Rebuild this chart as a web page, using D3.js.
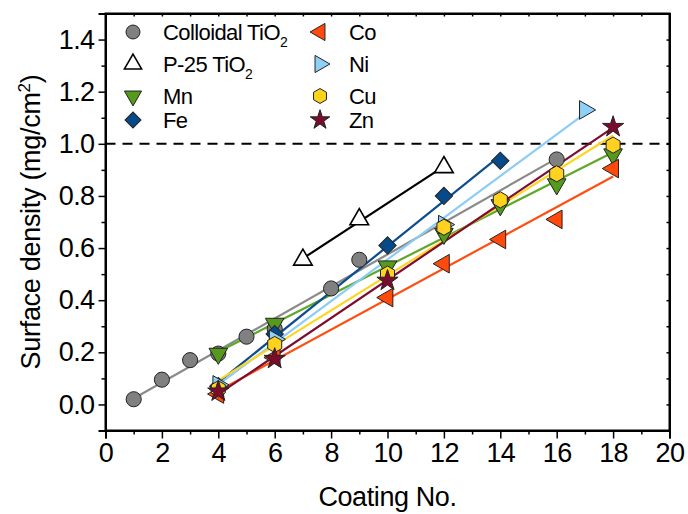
<!DOCTYPE html>
<html>
<head>
<meta charset="utf-8">
<script src="https://cdn.jsdelivr.net/npm/d3@7/dist/d3.min.js"></script>
<style>
body { margin: 0; background: #fff; }
text { font-family: "Liberation Sans", Arial, sans-serif; fill: #000; }
</style>
</head>
<body>
<svg id="chart" width="688" height="514"></svg>
<script>
// data
var colloidalX = [1, 2, 3, 4, 5, 6, 8, 9, 16];
var colloidalY = [0.02, 0.095, 0.17, 0.195, 0.26, 0.29, 0.445, 0.555, 0.94];
var p25X = [7, 9, 12];
var p25Y = [0.555, 0.71, 0.91];
var mnX = [4, 6, 10, 12, 14, 16, 18];
var mnY = [0.195, 0.31, 0.53, 0.655, 0.765, 0.845, 0.96];
var feX = [4, 6, 10, 12, 14];
var feY = [0.07, 0.27, 0.61, 0.80, 0.935];
var coX = [4, 6, 10, 12, 14, 16, 18];
var coY = [0.04, 0.18, 0.41, 0.54, 0.633, 0.71, 0.905];
var niX = [4, 6, 12, 17];
var niY = [0.075, 0.25, 0.69, 1.13];
var cuX = [4, 6, 10, 12, 14, 16, 18];
var cuY = [0.06, 0.23, 0.50, 0.68, 0.785, 0.885, 0.995];
var znX = [4, 6, 10, 18];
var znY = [0.05, 0.175, 0.475, 1.065];

var xTicks = [0, 2, 4, 6, 8, 10, 12, 14, 16, 18, 20];
var yTicks = [0, 0.2, 0.4, 0.6, 0.8, 1.0, 1.2, 1.4];

var svg = d3.select('#chart');

var x = d3.scaleLinear().domain([0, 20]).range([105.5, 669.5]);
var y = d3.scaleLinear().domain([-0.1, 1.5]).range([430.5, 13.5]);

var hexagon = {
    draw: function (ctx, size) {
        var r = Math.sqrt(size / 2.598);
        for (var i = 0; i < 6; i++) {
            var a = Math.PI / 6 + i * Math.PI / 3;
            var px = r * Math.cos(a), py = r * Math.sin(a);
            if (i === 0) ctx.moveTo(px, py); else ctx.lineTo(px, py);
        }
        ctx.closePath();
    }
};

var series = [
    { name: 'Colloidal TiO', sub: '2', xs: colloidalX, ys: colloidalY, line: '#8a8a8a', fill: '#808080', sym: d3.symbolCircle, size: 180, rot: 0 },
    { name: 'P-25 TiO', sub: '2', xs: p25X, ys: p25Y, line: '#000', fill: '#fff', sym: d3.symbolTriangle, size: 150, rot: 0 },
    { name: 'Mn', xs: mnX, ys: mnY, line: '#5ea82a', fill: '#559a1c', sym: d3.symbolTriangle, size: 150, rot: 180 },
    { name: 'Fe', xs: feX, ys: feY, line: '#0d4d8e', fill: '#064a8a', sym: d3.symbolSquare, size: 150, rot: 45 },
    { name: 'Co', xs: coX, ys: coY, line: '#ff4e12', fill: '#ff4a0c', sym: d3.symbolTriangle, size: 150, rot: -90 },
    { name: 'Ni', xs: niX, ys: niY, line: '#8ccdf5', fill: '#8fd0f8', sym: d3.symbolTriangle, size: 150, rot: 90 },
    { name: 'Cu', xs: cuX, ys: cuY, line: '#ffd524', fill: '#ffd21f', sym: hexagon, size: 170, rot: 0 },
    { name: 'Zn', xs: znX, ys: znY, line: '#7d0c2e', fill: '#7b0c2c', sym: d3.symbolStar, size: 140, rot: 0 }
];

function fit(xs, ys) {
    var n = xs.length, mx = d3.mean(xs), my = d3.mean(ys), sxy = 0, sxx = 0;
    for (var i = 0; i < n; i++) {
        sxy += (xs[i] - mx) * (ys[i] - my);
        sxx += (xs[i] - mx) * (xs[i] - mx);
    }
    var b = sxy / sxx;
    return { a: my - b * mx, b: b };
}

// axes
var bottom = svg.append('g').attr('transform', 'translate(0,' + y.range()[0] + ')');
bottom.call(d3.axisBottom(x).tickValues(xTicks).tickSize(8).tickPadding(4));
svg.append('g').attr('transform', 'translate(0,' + y.range()[0] + ')')
    .call(d3.axisBottom(x).tickValues(d3.range(1, 20, 2)).tickSize(4).tickFormat(''));

var left = svg.append('g').attr('transform', 'translate(' + x.range()[0] + ',0)');
left.call(d3.axisLeft(y).tickValues(yTicks).tickSize(7).tickPadding(4).tickFormat(d3.format('.1f')));
svg.append('g').attr('transform', 'translate(' + x.range()[0] + ',0)')
    .call(d3.axisLeft(y).tickValues(d3.range(-0.1, 1.5, 0.2)).tickSize(4).tickFormat(''));

svg.append('g').attr('transform', 'translate(0,' + y.range()[1] + ')')
    .call(d3.axisBottom(x).tickValues(d3.range(1, 20, 1)).tickSize(3).tickFormat(''));
svg.append('g').attr('transform', 'translate(' + x.range()[1] + ',0)')
    .call(d3.axisLeft(y).tickValues(d3.range(0, 1.45, 0.1)).tickSize(3).tickFormat(''));

svg.selectAll('.domain').attr('stroke', '#000').attr('stroke-width', 2);
svg.selectAll('.tick line').attr('stroke', '#000').attr('stroke-width', 1.5);
svg.selectAll('.tick text').style('font-size', '27px').style('letter-spacing', '-0.6px').attr('fill', '#000');

// frame
svg.append('rect')
    .attr('x', x.range()[0]).attr('y', y.range()[1])
    .attr('width', x.range()[1] - x.range()[0]).attr('height', y.range()[0] - y.range()[1])
    .attr('fill', 'none').attr('stroke', '#000').attr('stroke-width', 2);

// 1.0 reference
svg.append('line')
    .attr('x1', x(0)).attr('x2', x(20)).attr('y1', y(1)).attr('y2', y(1))
    .attr('stroke', '#000').attr('stroke-width', 2).attr('stroke-dasharray', '10,7');

// axis titles
svg.append('text')
    .attr('x', (x.range()[0] + x.range()[1]) / 2).attr('y', 506)
    .attr('text-anchor', 'middle').style('font-size', '27px').style('letter-spacing', '-0.4px').text('Coating No.');

var yt = svg.append('text')
    .attr('transform', 'translate(40,' + 222 + ') rotate(-90)')
    .attr('text-anchor', 'middle').style('font-size', '27px').style('letter-spacing', '-0.3px');
yt.append('tspan').text('Surface density (mg/cm');
yt.append('tspan').attr('dy', -10).style('font-size', '17px').text('2');
yt.append('tspan').attr('dy', 10).text(')');

// fit lines and markers
var plot = svg.append('g');
series.forEach(function (s) {
    var f = fit(s.xs, s.ys);
    var x0 = d3.min(s.xs), x1 = d3.max(s.xs);
    plot.append('line')
        .attr('x1', x(x0)).attr('y1', y(f.a + f.b * x0))
        .attr('x2', x(x1)).attr('y2', y(f.a + f.b * x1))
        .attr('stroke', s.line).attr('stroke-width', 2.2);
});
series.forEach(function (s) {
    var sym = d3.symbol().type(s.sym).size(s.size);
    plot.selectAll(null)
        .data(s.xs.map(function (d, i) { return [d, s.ys[i]]; }))
        .enter().append('path')
        .attr('d', sym)
        .attr('transform', function (d) {
            return 'translate(' + x(d[0]) + ',' + y(d[1]) + ') rotate(' + s.rot + ')';
        })
        .attr('fill', s.fill)
        .attr('stroke', s.name.indexOf('P-25') === 0 ? '#000' : '#222')
        .attr('stroke-width', s.name.indexOf('P-25') === 0 ? 1.6 : 1);
});

// legend
var legendRows = [32, 64, 96, 120];
var legend = svg.append('g');
series.forEach(function (s, i) {
    var col = Math.floor(i / 4), row = i % 4;
    var sx = col === 0 ? 133 : 320, tx = col === 0 ? 163 : 349;
    var ly = legendRows[row];
    legend.append('path')
        .attr('d', d3.symbol().type(s.sym).size(s.size * 0.85))
        .attr('transform', 'translate(' + sx + ',' + ly + ') rotate(' + s.rot + ')')
        .attr('fill', s.fill)
        .attr('stroke', s.name.indexOf('P-25') === 0 ? '#000' : '#222')
        .attr('stroke-width', s.name.indexOf('P-25') === 0 ? 1.6 : 1);
    var t = legend.append('text')
        .attr('x', tx).attr('y', ly + 8)
        .style('font-size', '22px').style('letter-spacing', '-0.6px');
    t.append('tspan').text(s.name);
    if (s.sub) {
        t.append('tspan').attr('dy', 7).style('font-size', '14px').text(s.sub);
    }
});
</script>
</body>
</html>
